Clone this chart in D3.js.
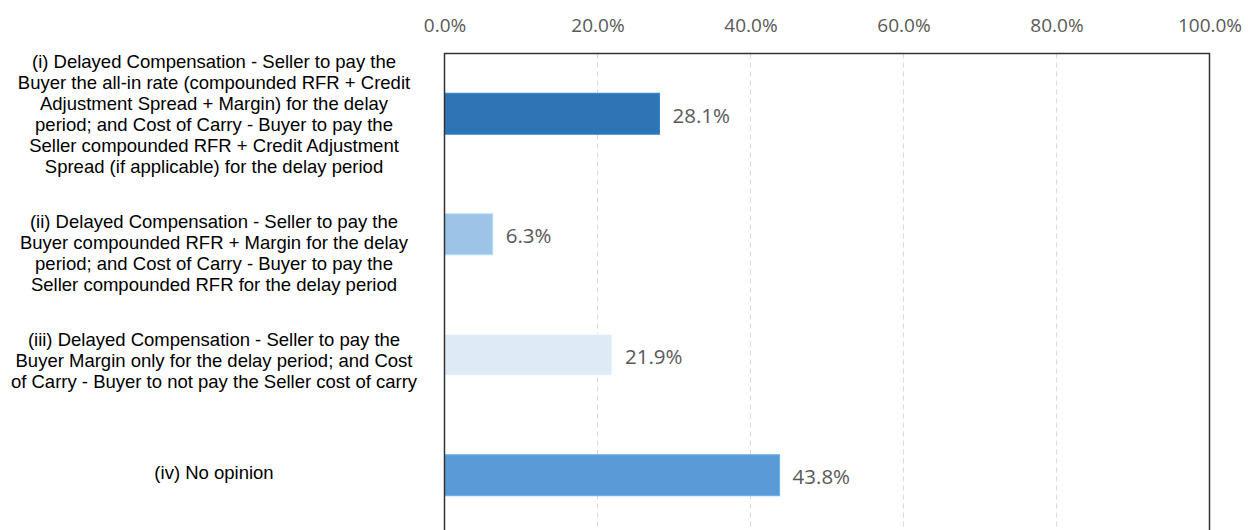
<!DOCTYPE html>
<html>
<head>
<meta charset="utf-8">
<script src="https://cdn.jsdelivr.net/npm/d3@7"></script>
<style>
  body { margin: 0; background: #fff; }
  svg { display: block; }
</style>
</head>
<body>
<svg id="chart" width="1248" height="530"></svg>
<script>
// 質問の選択肢（改行は \n）
var categories = [
  "(i) Delayed Compensation - Seller to pay the\nBuyer the all-in rate (compounded RFR + Credit\nAdjustment Spread + Margin) for the delay\nperiod; and Cost of Carry - Buyer to pay the\nSeller compounded RFR + Credit Adjustment\nSpread (if applicable) for the delay period",
  "(ii) Delayed Compensation - Seller to pay the\nBuyer compounded RFR + Margin for the delay\nperiod; and Cost of Carry - Buyer to pay the\nSeller compounded RFR for the delay period",
  "(iii) Delayed Compensation - Seller to pay the\nBuyer Margin only for the delay period; and Cost\nof Carry - Buyer to not pay the Seller cost of carry",
  "(iv) No opinion"
];
var values = [0.281, 0.063, 0.219, 0.438];
var barColors = ["#2E75B6", "#9DC3E6", "#DEEBF7", "#5B9BD5"];
var tickValues = [0, 0.2, 0.4, 0.6, 0.8, 1.0];

// レイアウト
var plotLeft = 444.5, plotRight = 1209.5, plotTop = 53.5, bandH = 120.5;
var labelShift = [0, 18.5, 6, -3]; // ラベルの縦ずれ（元の図に合わせる）

var svg = d3.select("#chart");

var x = d3.scaleLinear().domain([0, 1]).range([plotLeft, plotRight]);
var y = d3.scaleBand()
  .domain(d3.range(categories.length))
  .range([plotTop, plotTop + bandH * categories.length])
  .paddingInner(0.66)
  .paddingOuter(0.33);

// グリッド線（点線）
svg.append("g")
  .selectAll("line")
  .data(tickValues.slice(1, -1))
  .enter()
  .append("line")
  .attr("x1", function(d){ return x(d); })
  .attr("x2", function(d){ return x(d); })
  .attr("y1", plotTop)
  .attr("y2", 530)
  .attr("stroke", "#d9d9d9")
  .attr("stroke-width", 1)
  .attr("stroke-dasharray", "5,4");

// 上の軸
var xAxis = d3.axisTop(x)
  .tickValues(tickValues)
  .tickFormat(d3.format(".1%"))
  .tickSize(0);

var axisG = svg.append("g")
  .attr("transform", "translate(0," + 34.5 + ")")
  .call(xAxis);
axisG.select(".domain").remove();
axisG.selectAll("text")
  .attr("fill", "#595959")
  .style("font-family", "'Open Sans', 'Noto Sans', sans-serif")
  .style("font-size", "19px");

// 棒
svg.append("g")
  .selectAll("rect")
  .data(values)
  .enter()
  .append("rect")
  .attr("x", x(0))
  .attr("y", function(d, i){ return y(i); })
  .attr("width", function(d){ return x(d) - x(0); })
  .attr("height", y.bandwidth())
  .attr("fill", function(d, i){ return barColors[i]; })
  .attr("stroke", function(d, i){ return d3.color(barColors[i]).brighter(0.35); })
  .attr("stroke-width", 1);

// 値ラベル
svg.append("g")
  .selectAll("text")
  .data(values)
  .enter()
  .append("text")
  .attr("x", function(d){ return x(d) + 13; })
  .attr("y", function(d, i){ return y(i) + y.bandwidth() / 2; })
  .attr("dy", "0.45em")
  .attr("fill", "#595959")
  .style("font-family", "'Open Sans', 'Noto Sans', sans-serif")
  .style("font-size", "20.5px")
  .text(function(d){ return d3.format(".1%")(d); });

// 枠線
svg.append("path")
  .attr("d", "M" + x(0) + ",530V" + plotTop + "H" + x(1) + "V530")
  .attr("fill", "none")
  .attr("stroke", "#333")
  .attr("stroke-width", 1.5);

// カテゴリラベル
var lineH = 21;
var labels = svg.append("g")
  .selectAll("text")
  .data(categories)
  .enter()
  .append("text")
  .attr("text-anchor", "middle")
  .attr("fill", "#000")
  .style("font-family", "'Liberation Sans', Arial, sans-serif")
  .style("font-size", "18.5px");

labels.each(function(d, i){
  var lines = d.split("\n");
  var cy = y(i) + y.bandwidth() / 2 + labelShift[i];
  var t = d3.select(this);
  lines.forEach(function(s, j){
    t.append("tspan")
      .attr("x", 214)
      .attr("y", cy + (j - (lines.length - 1) / 2) * lineH)
      .attr("dy", "0.35em")
      .text(s);
  });
});
</script>
</body>
</html>
